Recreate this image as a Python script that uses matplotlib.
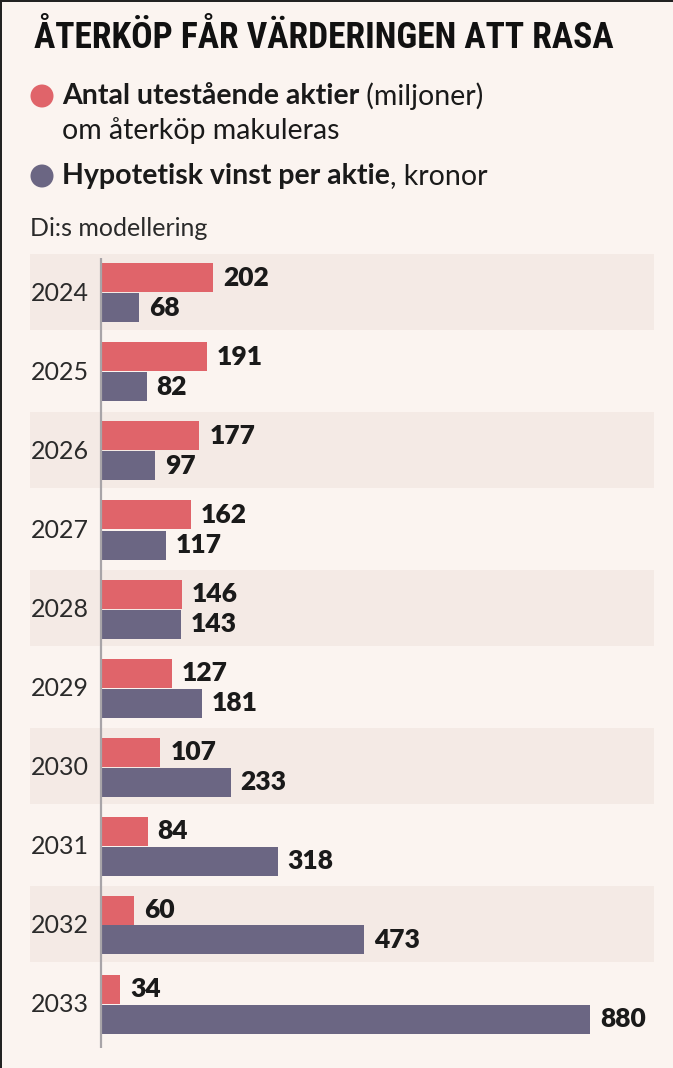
import matplotlib
matplotlib.use("Agg")
import matplotlib.pyplot as plt
from matplotlib.patches import Rectangle, Ellipse
from matplotlib import font_manager as fm

years = ["2024", "2025", "2026", "2027", "2028", "2029", "2030", "2031", "2032", "2033"]
shares = [202, 191, 177, 162, 146, 127, 107, 84, 60, 34]
eps = [68, 82, 97, 117, 143, 181, 233, 318, 473, 880]

title = "ÅTERKÖP FÅR VÄRDERINGEN ATT RASA"
leg1_bold = "Antal utestående aktier"
leg1_reg = " (miljoner)"
leg1_line2 = "om återköp makuleras"
leg2_bold = "Hypotetisk vinst per aktie"
leg2_reg = ", kronor"
note = "Di:s modellering"

BG = "#fbf4f0"
BAND = "#f4eae5"
RED = "#e0646a"
PURPLE = "#6b6683"
TXT = "#1a1a1a"

W, H = 673, 1068
fig = plt.figure(figsize=(W / 100, H / 100), dpi=100)
fig.patch.set_facecolor(BG)

FONT = ["Lato", "DejaVu Sans"]

names = {f.name for f in fm.fontManager.ttflist}
cond = [n for n in ["Roboto Condensed", "Open Sans Condensed", "Liberation Sans Narrow",
                    "DejaVu Sans Condensed"] if n in names]
TFONT = cond + ["Roboto", "DejaVu Sans"]

def px(x, y):
    return x / W, 1 - y / H

ax_l, ax_r, ax_t, ax_b = 30, 654, 254, 1050
ax = fig.add_axes([ax_l / W, 1 - ax_b / H, (ax_r - ax_l) / W, (ax_b - ax_t) / H])
ax.set_facecolor("none")
ppu = 0.556
x0px = 101
ax.set_xlim(-(x0px - ax_l) / ppu, (ax_r - x0px) / ppu)
pitch = 79.0
ax.set_ylim((ax_b - 292) / pitch, -(292 - ax_t) / pitch)
for s in ax.spines.values():
    s.set_visible(False)
ax.set_xticks([])
ax.set_yticks([])

n = len(years)
pos = list(range(n))
for i in pos:
    if i % 2 == 0:
        ax.axhspan(i - 0.48, i + 0.48, color=BAND, zorder=0, lw=0)

bh = 29 / pitch
red_off = -14 / pitch
pur_off = 16 / pitch
ax.barh([p + red_off for p in pos], shares, height=bh, color=RED, zorder=2, lw=0)
ax.barh([p + pur_off for p in pos], eps, height=bh, color=PURPLE, zorder=2, lw=0)

lab_off = 10 / ppu
for i in pos:
    ax.text(shares[i] + lab_off, i + red_off, str(shares[i]), ha="left", va="center",
            fontsize=19, fontweight="heavy", color=TXT, family=FONT, zorder=3)
    ax.text(eps[i] + lab_off, i + pur_off, str(eps[i]), ha="left", va="center",
            fontsize=19, fontweight="heavy", color=TXT, family=FONT, zorder=3)
    ax.text(-12 / ppu, i + 1.5 / pitch, years[i], ha="right", va="center",
            fontsize=18, fontweight="normal", color="#2a2a2a", family=FONT, zorder=3)

ax.plot([0, 0], [(258 - 292) / pitch, (1048 - 292) / pitch], color="#a8a4a8", lw=1.6,
        zorder=4, solid_capstyle="butt")

fig.canvas.draw()
r = fig.canvas.get_renderer()

tt = fig.text(*px(34, 38), title, ha="left", va="center", fontsize=26, fontweight="heavy",
              family=TFONT, fontstretch="condensed", color="#111111")
bb = tt.get_window_extent(renderer=r)
target = 581
if bb.width > target:
    tt.set_fontsize(26 * target / bb.width)

def circ(x, y, color):
    e = Ellipse(px(x, y), 23 / W, 23 / H, transform=fig.transFigure, color=color, lw=0)
    fig.patches.append(e)

circ(42, 96, RED)
circ(42, 176, PURPLE)

def mixed(x, y, bold, reg, size):
    t = fig.text(*px(x, y), bold, ha="left", va="center", fontsize=size, fontweight="bold",
                 family=FONT, color=TXT)
    bb = t.get_window_extent(renderer=r)
    fig.text(bb.x1 / W, 1 - y / H, reg, ha="left", va="center", fontsize=size,
             family=FONT, color=TXT)

mixed(62, 96, leg1_bold, leg1_reg, 20.5)
fig.text(*px(62, 131), leg1_line2, ha="left", va="center", fontsize=20.5, family=FONT, color=TXT)
mixed(62, 176, leg2_bold, leg2_reg, 20.5)
fig.text(*px(30, 228), note, ha="left", va="center", fontsize=18, family=FONT, color="#2a2a2a")

fig.patches.append(Rectangle((0, 1 - 2 / H), 1, 2 / H, transform=fig.transFigure, color="#222222", lw=0))
fig.patches.append(Rectangle((0, 0), 2 / W, 1, transform=fig.transFigure, color="#222222", lw=0))

fig.savefig("out.png", dpi=100, facecolor=BG)
